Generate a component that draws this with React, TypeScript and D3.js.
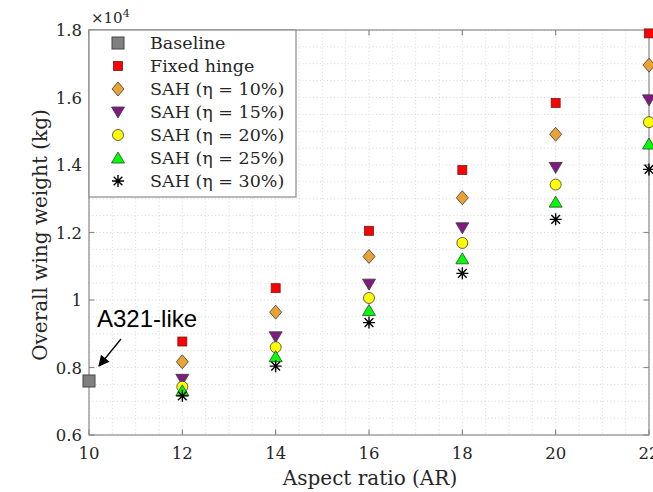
import React from "react";
import * as d3 from "d3";

const aspectRatios = [12, 14, 16, 18, 20, 22];
const baselineAR = [10];
const baselineWeight = [0.76];
const fixedHinge = [0.877, 1.035, 1.205, 1.385, 1.584, 1.79];
const sah10 = [0.817, 0.964, 1.129, 1.303, 1.491, 1.696];
const sah15 = [0.765, 0.891, 1.047, 1.214, 1.393, 1.593];
const sah20 = [0.743, 0.86, 1.006, 1.169, 1.342, 1.527];
const sah25 = [0.731, 0.832, 0.969, 1.122, 1.29, 1.462];
const sah30 = [0.716, 0.804, 0.933, 1.079, 1.239, 1.387];
const xTicks = [10, 12, 14, 16, 18, 20, 22];
const yTicks = [0.6, 0.8, 1.0, 1.2, 1.4, 1.6, 1.8];
const legendLabels = [
  "Baseline",
  "Fixed hinge",
  "SAH (η = 10%)",
  "SAH (η = 15%)",
  "SAH (η = 20%)",
  "SAH (η = 25%)",
  "SAH (η = 30%)",
];

type Kind = "bigsquare" | "square" | "diamond" | "tridown" | "circle" | "triup" | "star";
const kinds: Kind[] = ["bigsquare", "square", "diamond", "tridown", "circle", "triup", "star"];
const colors = ["#808080", "#ff0000", "#eba234", "#7f1a80", "#ffff00", "#00ff00", "#000000"];

const W = 653;
const H = 492;
const left = 89;
const right = 649;
const top = 30;
const bottom = 435;
const serif = "'DejaVu Serif', serif";

function Marker({ kind, x, y, color }: { kind: Kind; x: number; y: number; color: string }) {
  const stroke = "#3a3a3a";
  const sw = 0.8;
  switch (kind) {
    case "bigsquare":
      return <rect x={x - 6} y={y - 6} width={12} height={12} fill={color} stroke="#444" strokeWidth={1} />;
    case "square":
      return <rect x={x - 4.5} y={y - 4.5} width={9} height={9} fill={color} stroke="#6a2020" strokeWidth={sw} />;
    case "diamond":
      return (
        <path d={`M${x},${y - 7}L${x + 6},${y}L${x},${y + 7}L${x - 6},${y}Z`} fill={color} stroke={stroke} strokeWidth={sw} />
      );
    case "tridown":
      return (
        <path d={`M${x - 6.5},${y - 5}L${x + 6.5},${y - 5}L${x},${y + 6}Z`} fill={color} stroke={stroke} strokeWidth={sw} />
      );
    case "triup":
      return (
        <path d={`M${x - 6.5},${y + 5}L${x + 6.5},${y + 5}L${x},${y - 6}Z`} fill={color} stroke={stroke} strokeWidth={sw} />
      );
    case "circle":
      return <circle cx={x} cy={y} r={5.5} fill={color} stroke={stroke} strokeWidth={sw} />;
    case "star": {
      const r = 6;
      const d = r * 0.72;
      return (
        <path
          d={`M${x - r},${y}L${x + r},${y}M${x},${y - r}L${x},${y + r}M${x - d},${y - d}L${x + d},${y + d}M${x - d},${y + d}L${x + d},${y - d}`}
          stroke={color}
          strokeWidth={1.4}
          fill="none"
        />
      );
    }
  }
}

export default function App() {
  const xScale = d3.scaleLinear().domain([10, 22]).range([left, right]);
  const yScale = d3.scaleLinear().domain([0.6, 1.8]).range([bottom, top]);

  const xGrid = d3.range(10, 22.001, 0.5);
  const yGrid = d3.range(0.6, 1.8001, 0.05);

  const series = [fixedHinge, sah10, sah15, sah20, sah25, sah30];
  const axisColor = "#8a8a8a";
  const legX = left;
  const legY = top;
  const legW = 207;
  const legH = 167;

  return (
    <svg width={W} height={H} style={{ position: "absolute", left: 0, top: 0, background: "#fff" }}>
      <rect x={0} y={0} width={W} height={H} fill="#fff" />
      {/* grid */}
      {xGrid.map((g, i) => (
        <line key={"xg" + i} x1={xScale(g)} x2={xScale(g)} y1={top} y2={bottom} stroke="#cfcfcf" strokeWidth={0.8} strokeDasharray="1,2.5" />
      ))}
      {yGrid.map((g, i) => (
        <line key={"yg" + i} x1={left} x2={right} y1={yScale(g)} y2={yScale(g)} stroke="#cfcfcf" strokeWidth={0.8} strokeDasharray="1,2.5" />
      ))}
      {/* axes box */}
      <rect x={left} y={top} width={right - left} height={bottom - top} fill="none" stroke={axisColor} strokeWidth={1.2} />
      {xTicks.map((t) => (
        <g key={"xt" + t}>
          <line x1={xScale(t)} x2={xScale(t)} y1={bottom} y2={bottom - 5.5} stroke={axisColor} strokeWidth={1.2} />
          <line x1={xScale(t)} x2={xScale(t)} y1={top} y2={top + 5.5} stroke={axisColor} strokeWidth={1.2} />
          <text x={xScale(t)} y={459} textAnchor="middle" fontFamily={serif} fontSize={16.5} fill="#262626">
            {t}
          </text>
        </g>
      ))}
      {yTicks.map((t) => (
        <g key={"yt" + t}>
          <line x1={left} x2={left + 5.5} y1={yScale(t)} y2={yScale(t)} stroke={axisColor} strokeWidth={1.2} />
          <line x1={right} x2={right - 5.5} y1={yScale(t)} y2={yScale(t)} stroke={axisColor} strokeWidth={1.2} />
          <text x={82} y={yScale(t) + 6} textAnchor="end" fontFamily={serif} fontSize={16.5} fill="#262626">
            {d3.format("~g")(t)}
          </text>
        </g>
      ))}
      <text x={91} y={23} fontFamily={serif} fontSize={15} fill="#262626">
        ×10
        <tspan fontSize={11} dy={-6}>4</tspan>
      </text>
      {/* axis labels */}
      <text x={370} y={485} textAnchor="middle" fontFamily={serif} fontSize={20} fill="#262626">
        Aspect ratio (AR)
      </text>
      <text
        transform={`translate(47,235) rotate(-90)`}
        textAnchor="middle"
        fontFamily={serif}
        fontSize={20}
        fill="#262626"
      >
        Overall wing weight (kg)
      </text>
      {/* data */}
      {baselineAR.map((a, i) => (
        <Marker key={"b" + i} kind="bigsquare" x={xScale(a)} y={yScale(baselineWeight[i])} color={colors[0]} />
      ))}
      {series.map((s, si) =>
        s.map((v, i) => (
          <Marker key={si + "-" + i} kind={kinds[si + 1]} x={xScale(aspectRatios[i])} y={yScale(v)} color={colors[si + 1]} />
        ))
      )}
      {/* annotation */}
      <text x={97} y={327} fontFamily="'Liberation Sans', Arial, sans-serif" fontSize={24} fill="#000">
        A321-like
      </text>
      <defs>
        <marker id="ah" viewBox="0 0 10 10" refX={9} refY={5} markerWidth={13} markerHeight={11} orient="auto-start-reverse" markerUnits="userSpaceOnUse">
          <path d="M0,0L10,5L0,10Z" fill="#000" />
        </marker>
      </defs>
      <line x1={121} y1={339} x2={99} y2={366} stroke="#000" strokeWidth={1.3} markerEnd="url(#ah)" />
      {/* legend */}
      <rect x={legX} y={legY} width={legW} height={legH} fill="#fff" stroke={axisColor} strokeWidth={1.2} />
      {legendLabels.map((lab, i) => {
        const yy = legY + 13 + i * 23;
        return (
          <g key={"l" + i}>
            <Marker kind={kinds[i]} x={legX + 29} y={yy} color={colors[i]} />
            <text x={legX + 61} y={yy + 6} fontFamily={serif} fontSize={17.5} fill="#262626">
              {lab}
            </text>
          </g>
        );
      })}
    </svg>
  );
}
